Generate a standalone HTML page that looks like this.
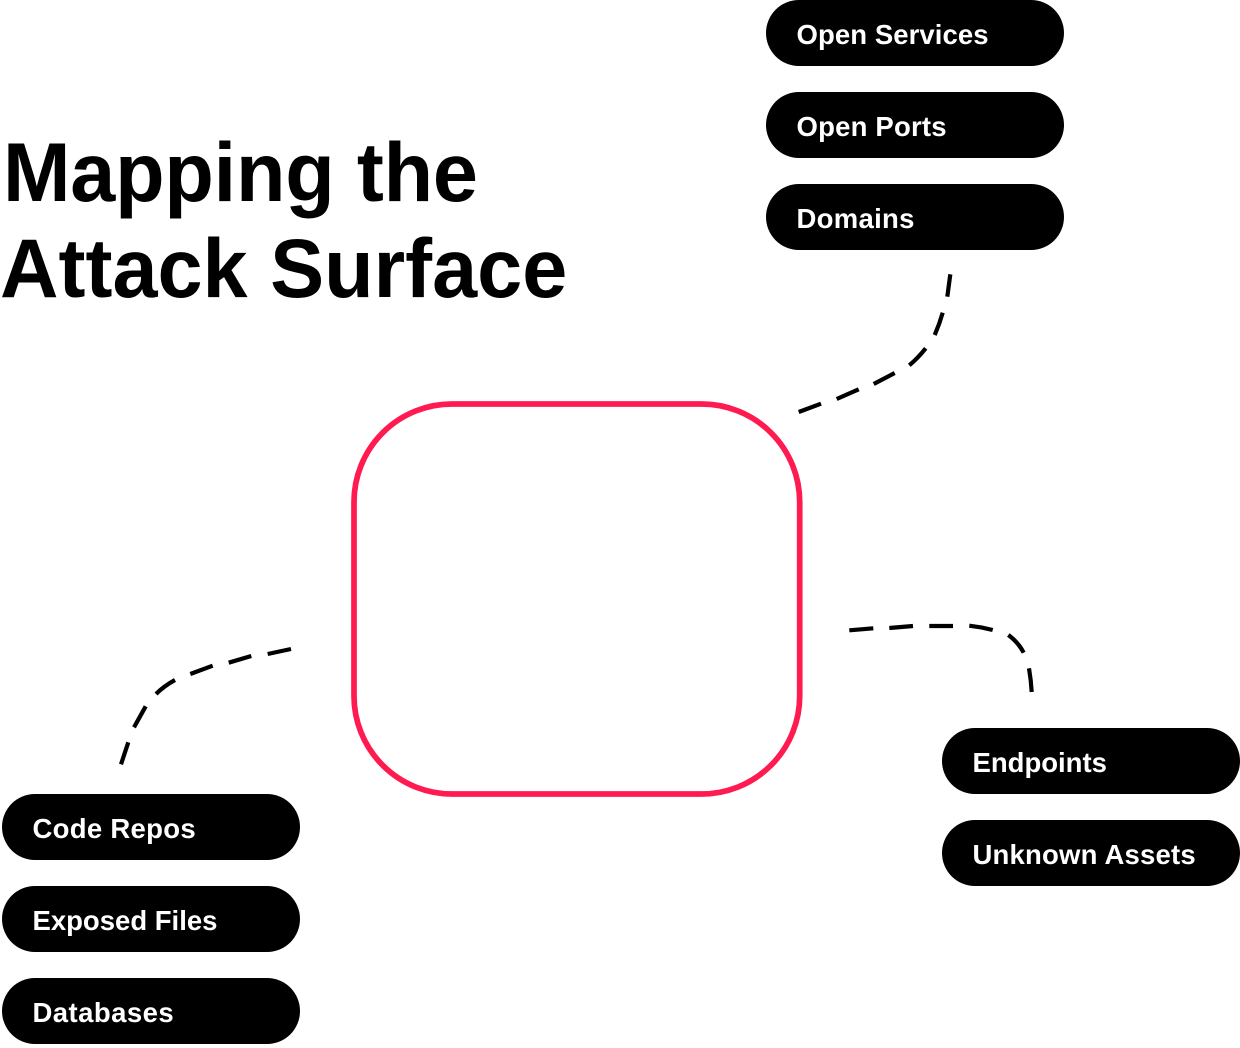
<!DOCTYPE html>
<html>
<head>
<meta charset="utf-8">
<style>
html,body{margin:0;padding:0;background:#fff}
body{position:relative;width:1240px;height:1044px;overflow:hidden;font-family:"Liberation Sans",sans-serif}
.p{position:absolute;width:298px;height:66px;background:#000;border-radius:33px;color:#fff;font-weight:700;font-size:27.5px;line-height:70px;padding-left:30.5px;box-sizing:border-box;white-space:nowrap}
.t{position:absolute;font-weight:700;font-size:81px;line-height:96px;color:#000;white-space:nowrap;transform:scaleY(1.03);transform-origin:0 75px}
svg{position:absolute;left:0;top:0}
</style>
</head>
<body>
<svg width="1240" height="1044" viewBox="0 0 1240 1044" fill="none">
<rect x="354" y="404" width="445.7" height="390" rx="98" ry="98" stroke="#ff1a50" stroke-width="5.7"/>
<g stroke="#000" stroke-width="4.2">
<path d="M950.3 274.3L947.3 296.7"/>
<path d="M942.7 312.7Q939.5 324 934.7 335"/>
<path d="M925.7 348.3Q918 358 909.3 365.3"/>
<path d="M894.7 373L873.7 384"/>
<path d="M858.7 389.3L836.7 399"/>
<path d="M821 403.7L798.7 412"/>
<path d="M849.3 630.3L873.3 628.3"/>
<path d="M889.3 628L913 626"/>
<path d="M929.3 626L953 626"/>
<path d="M969.3 625.7Q981 627 992.7 630"/>
<path d="M1008.3 635Q1018 642 1023.7 652.7"/>
<path d="M1029 668.3Q1031 680 1031.7 692"/>
<path d="M291 649L267.7 654"/>
<path d="M251.3 656L228.7 662.7"/>
<path d="M212.7 665.7L190.3 674"/>
<path d="M175 680Q164 686 156 694"/>
<path d="M145.7 706.3L134 727.3"/>
<path d="M128.3 742.3L121 764.3"/>
</g>
</svg>
<div class="t" style="left:3px;top:126px;letter-spacing:-.2px">Mapping the</div>
<div class="t" style="left:0;top:222px">Attack Surface</div>
<div class="p" style="left:766px;top:0;letter-spacing:.08px">Open Services</div>
<div class="p" style="left:766px;top:92px;letter-spacing:.2px">Open Ports</div>
<div class="p" style="left:766px;top:184px;letter-spacing:.3px">Domains</div>
<div class="p" style="left:942px;top:728px">Endpoints</div>
<div class="p" style="left:942px;top:820px;letter-spacing:.2px">Unknown Assets</div>
<div class="p" style="left:2px;top:794px;letter-spacing:.3px">Code Repos</div>
<div class="p" style="left:2px;top:886px">Exposed Files</div>
<div class="p" style="left:2px;top:978px;letter-spacing:.45px">Databases</div>
</body>
</html>
